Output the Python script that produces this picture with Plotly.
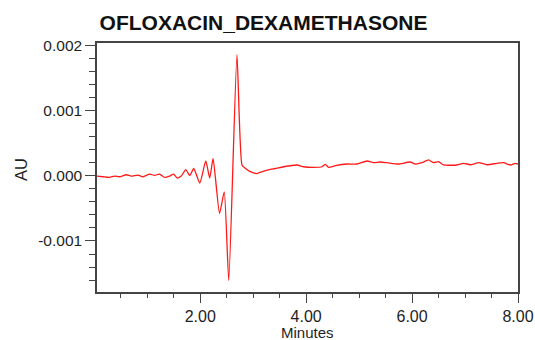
import plotly.graph_objects as go

title_text = "OFLOXACIN_DEXAMETHASONE"
x_label = "Minutes"
y_label = "AU"

minutes = [0.049, 0.162, 0.287, 0.381, 0.476, 0.602, 0.697, 0.823, 0.918, 1.042,
           1.137, 1.231, 1.326, 1.420, 1.496, 1.566, 1.641, 1.726, 1.802, 1.877,
           1.991, 2.104, 2.179, 2.242, 2.364, 2.453, 2.538, 2.693, 2.788, 2.850,
           2.944, 3.067, 3.171, 3.322, 3.416, 3.573, 3.826, 3.951, 4.140, 4.298,
           4.361, 4.423, 4.550, 4.771, 4.959, 5.148, 5.273, 5.399, 5.526, 5.745,
           5.966, 6.060, 6.187, 6.312, 6.406, 6.500, 6.595, 6.848, 6.973, 7.099,
           7.256, 7.415, 7.603, 7.728, 7.855, 7.949, 8.000]
au = [-0.000005, -0.000015, -0.000025, -0.000005, -0.000015, 0.000015, -0.000005, 0.000011, -0.000015, 0.000026,
      0.000006, 0.000026, -0.000025, -0.000005, 0.000026, -0.000035, -0.000005, 0.000095, 0.000003, 0.000111,
      -0.000112, 0.000226, -0.000035, 0.000265, -0.000578, -0.000246, -0.001605, 0.001857, 0.000165, 0.000114,
      0.000062, 0.000034, 0.000065, 0.000098, 0.000111, 0.000138, 0.000165, 0.000138, 0.000129, 0.000138,
      0.000175, 0.000129, 0.000154, 0.000180, 0.000180, 0.000226, 0.000200, 0.000211, 0.000200, 0.000180,
      0.000211, 0.000180, 0.000200, 0.000242, 0.000200, 0.000215, 0.000165, 0.000165, 0.000191, 0.000169,
      0.000200, 0.000169, 0.000191, 0.000200, 0.000165, 0.000191, 0.000180]

x_tickvals = [2, 4, 6, 8]
x_ticktext = ["2.00", "4.00", "6.00", "8.00"]
y_tickvals = [0.002, 0.001, 0.0, -0.001]
y_ticktext = ["0.002", "0.001", "0.000", "-0.001"]

axis_col = "#444444"
text_col = "#1e1e1e"
font_fam = "Liberation Sans, Arial, sans-serif"

fig = go.Figure()
fig.add_trace(go.Scatter(x=minutes, y=au, mode="lines",
                         line=dict(color="#ff1a1a", width=1.3, shape="spline", smoothing=0.5),
                         showlegend=False))

fig.update_layout(
    width=535, height=340,
    margin=dict(l=97, r=17, t=43, b=48, autoexpand=False),
    paper_bgcolor="white", plot_bgcolor="white",
    font=dict(family=font_fam, color=text_col),
    title=dict(text="<b>" + title_text + "</b>", x=263.5 / 535, xref="container", xanchor="center",
               y=1 - 23 / 340, yref="container", yanchor="middle",
               font=dict(size=21, family=font_fam, color="#111111")),
    annotations=[
        dict(text=x_label, xref="paper", yref="paper", x=0.5, y=0, xanchor="center",
             yanchor="middle", yshift=-40, showarrow=False, font=dict(size=15)),
        dict(text=y_label, xref="paper", yref="paper", x=0, y=0.49, xanchor="center",
             yanchor="middle", xshift=-76, textangle=-90, showarrow=False, font=dict(size=16.5)),
    ],
)
fig.update_xaxes(
    range=[0.05, 8.0], showgrid=False, zeroline=False, automargin=False,
    showline=True, linecolor=axis_col, linewidth=1.5, mirror=True,
    ticks="outside", ticklen=9, tickwidth=1.2, tickcolor=axis_col,
    tickvals=x_tickvals, ticktext=x_ticktext, tickfont=dict(size=16),
    minor=dict(ticks="outside", ticklen=4, tickwidth=1.2, tickcolor=axis_col, dtick=0.5, tick0=0),
)
fig.update_yaxes(
    range=[-0.001782, 0.002035], showgrid=False, zeroline=False, automargin=False,
    showline=True, linecolor=axis_col, linewidth=1.5, mirror=True,
    ticks="outside", ticklen=10, tickwidth=1.2, tickcolor=axis_col,
    tickvals=y_tickvals, ticktext=y_ticktext, tickfont=dict(size=15.5),
    minor=dict(ticks="outside", ticklen=6, tickwidth=1.2, tickcolor=axis_col, dtick=0.0002, tick0=0),
)

fig.write_html("out.html")
